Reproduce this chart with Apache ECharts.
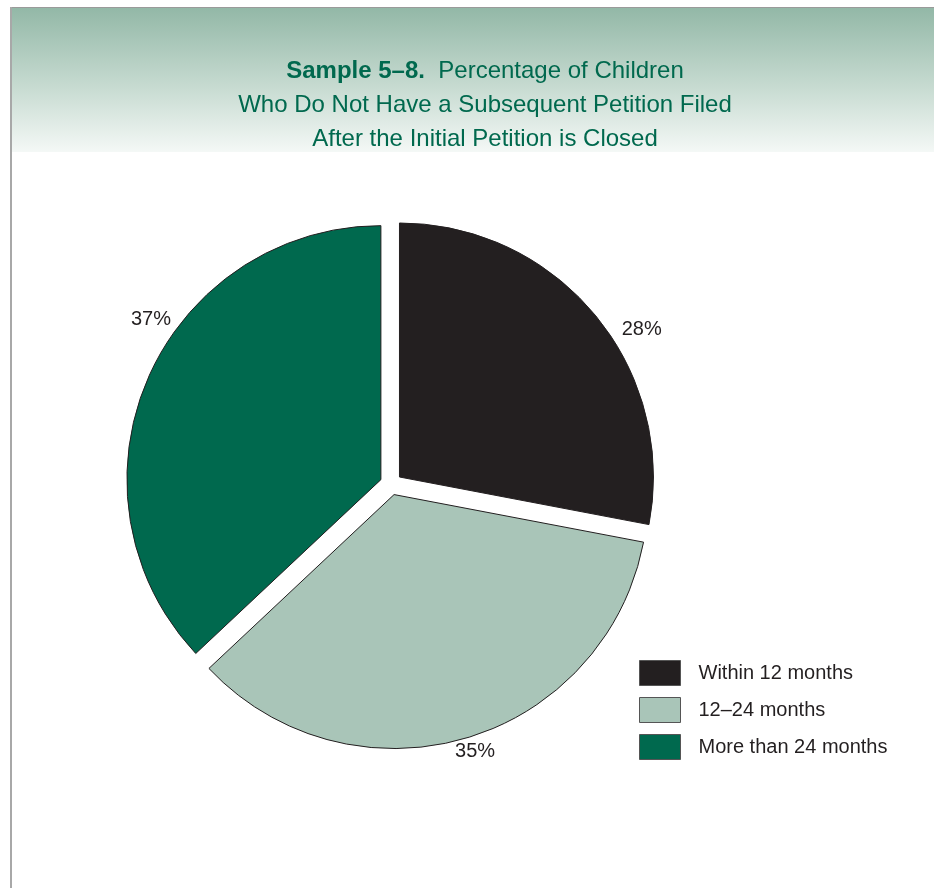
<!DOCTYPE html>
<html>
<head>
<meta charset="utf-8">
<script src="https://cdn.jsdelivr.net/npm/echarts@6/dist/echarts.min.js"></script>
<style>
html,body{margin:0;padding:0;background:#fff;}
#chart{width:934px;height:888px;}
</style>
</head>
<body>
<div id="chart"></div>
<script>
const categories = ['Within 12 months', '12\u201324 months', 'More than 24 months'];
const values = [28, 35, 37];
const sliceColors = ['#231f20', '#a9c5b8', '#00694e'];
const titleLead = 'Sample 5\u20138.';
const titleLines = ['Percentage of Children', 'Who Do Not Have a Subsequent Petition Filed', 'After the Initial Petition is Closed'];

const chart = echarts.init(document.getElementById('chart'), null, {renderer: 'canvas'});
const font = "'Liberation Sans', Arial, sans-serif";
// small nudges of the percentage labels relative to ECharts' outside placement
const labelNudge = [[10, 24], [-19, -1], [42, -53]];

const option = {
  backgroundColor: '#ffffff',
  animation: false,
  graphic: [
    {type: 'rect', shape: {x: 12, y: 8, width: 922, height: 144}, z: 0,
      style: {fill: new echarts.graphic.LinearGradient(0, 0, 0, 1, [
        {offset: 0, color: '#93b8a7'}, {offset: 0.55, color: '#c7dbd1'}, {offset: 1, color: '#f4f8f6'}])}},
    {type: 'rect', shape: {x: 11, y: 7, width: 923, height: 1}, style: {fill: '#9a9a9a'}, z: 1},
    {type: 'rect', shape: {x: 10, y: 7, width: 2, height: 881}, style: {fill: '#a8a8a8'}, z: 1}
  ],
  title: {
    text: '{b|' + titleLead + '}  ' + titleLines.join('\n'),
    left: 480, top: 49, textAlign: 'center',
    textStyle: {
      fontFamily: font, fontSize: 24, fontWeight: 'normal', color: '#00694e', lineHeight: 34,
      rich: {b: {fontFamily: font, fontSize: 24, fontWeight: 'bold', color: '#00694e', lineHeight: 34}}
    }
  },
  legend: {
    orient: 'vertical', left: 634, top: 655,
    itemWidth: 41, itemHeight: 25, itemGap: 11,
    icon: 'rect',
    textStyle: {fontFamily: font, fontSize: 20, color: '#231f20', padding: [0, 0, 0, 13]},
    itemStyle: {borderColor: '#555555', borderWidth: 1},
    data: categories
  },
  series: [{
    type: 'pie',
    center: [391, 484], radius: 254,
    startAngle: 90, clockwise: true,
    selectedMode: 'multiple', selectedOffset: 11,
    itemStyle: {borderColor: '#231f20', borderWidth: 1},
    label: {show: true, position: 'outside', formatter: '{c}%', fontFamily: font, fontSize: 20, color: '#231f20'},
    labelLine: {show: false, length: 15, length2: 0},
    labelLayout: function (p) { const n = labelNudge[p.dataIndex]; return {dx: n[0], dy: n[1]}; },
    emphasis: {disabled: true},
    data: categories.map((c, i) => ({name: c, value: values[i], selected: true, itemStyle: {color: sliceColors[i]}}))
  }]
};
chart.setOption(option);
</script>
</body>
</html>
